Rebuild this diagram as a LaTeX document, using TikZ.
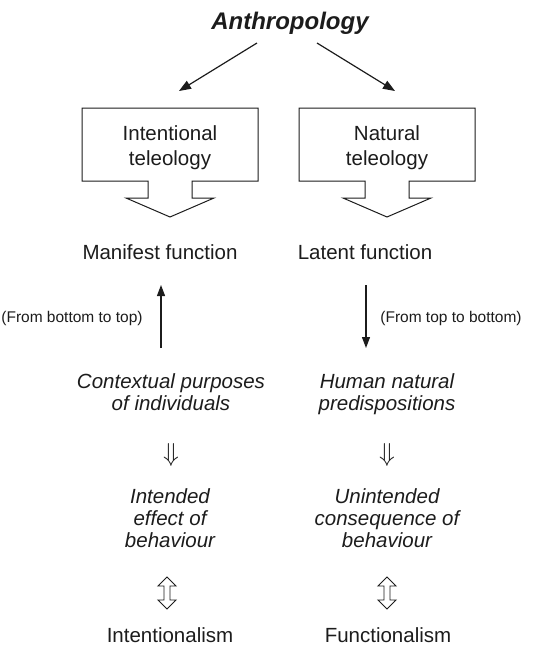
\documentclass[tikz,border=0pt]{standalone}
\usepackage{fontspec}
\setmainfont{Liberation Sans}
\usetikzlibrary{arrows.meta}
\definecolor{ink}{HTML}{1C1C1C}

% block arrow: labelled box with a hollow arrow underneath
\newcommand{\blockarrow}[1]{%
  \draw[outline] (#1-88,108) -- (#1+88,108) -- (#1+88,181) -- (#1+22,181)
    -- (#1+22,198) -- (#1+44,198) -- (#1,217) -- (#1-44,198) -- (#1-22,198)
    -- (#1-22,181) -- (#1-88,181) -- cycle;}
% hollow up-down arrow
\newcommand{\updownhollow}[2]{%
  \draw[draw=ink, line width=0.9pt, fill=white, line join=miter]
    (#1,#2-16) -- (#1+9,#2-7) -- (#1+3,#2-7) -- (#1+3,#2+7) -- (#1+9,#2+7)
    -- (#1,#2+16) -- (#1-9,#2+7) -- (#1-3,#2+7) -- (#1-3,#2-7) -- (#1-9,#2-7) -- cycle;}

\begin{document}
\begin{tikzpicture}[x=1pt,y=-1pt,
  lbl/.style={text=ink, inner sep=0pt, anchor=base, align=center},
  body/.style={lbl, font=\fontsize{20.5}{25}\selectfont},
  emph/.style={lbl, font=\fontsize{20.5}{22}\selectfont\itshape},
  note/.style={lbl, font=\fontsize{15.5}{18}\selectfont},
  title/.style={lbl, font=\fontsize{24}{28}\selectfont\bfseries\itshape},
  outline/.style={draw=ink, line width=1pt, fill=white},
  link/.style={draw=ink, line width=1.2pt, -{Triangle[length=12pt,width=9pt]}},
  vlink/.style={draw=ink, line width=1.2pt, -{Triangle[length=11pt,width=8pt]}},
  dbl/.style={text=ink, inner sep=0pt, anchor=center, scale=1.25, font=\fontsize{20}{24}\selectfont},
]
\useasboundingbox (0,0) rectangle (555,646);

% title
\node[title] (anth) at (290,29) {Anthropology};
\coordinate (al) at (257,43);
\coordinate (ar) at (317,43);
\coordinate (alt) at (179,91);
\coordinate (art) at (395,91);
\draw[link] (al) -- (alt);
\draw[link] (ar) -- (art);

% the two teleologies (base anchor sits on the last line)
\blockarrow{170}
\blockarrow{387}
\node[body] (intent) at (170,165) {Intentional\\teleology};
\node[body] (natural) at (387,165) {Natural\\teleology};

% functions
\node[body] (manifest) at (160,259) {Manifest function};
\node[body] (latent) at (365,259) {Latent function};

\coordinate (upb) at (161,348);
\coordinate (upt) at (161,285);
\coordinate (dnt) at (366,285);
\coordinate (dnb) at (366,348);
\draw[vlink] (upb) -- (upt);
\draw[vlink] (dnt) -- (dnb);
\node[note] (btt) at (72,322) {(From bottom to top)};
\node[note] (ttb) at (451,322) {(From top to bottom)};

% sources
\node[emph] (context) at (171,410) {Contextual purposes\\of individuals};
\node[emph] (human) at (387,410) {Human natural\\predispositions};
\node[dbl] (d1) at (171,455) {$\Downarrow$};
\node[dbl] (d2) at (387,455) {$\Downarrow$};

% effects
\node[emph] (intended) at (170,547) {Intended\\effect of\\behaviour};
\node[emph] (unintended) at (387,547) {Unintended\\consequence of\\behaviour};

\updownhollow{167}{593}
\updownhollow{387}{593}

% schools
\node[body] (intism) at (170,642) {Intentionalism};
\node[body] (funcism) at (388,642) {Functionalism};
\end{tikzpicture}
\end{document}
